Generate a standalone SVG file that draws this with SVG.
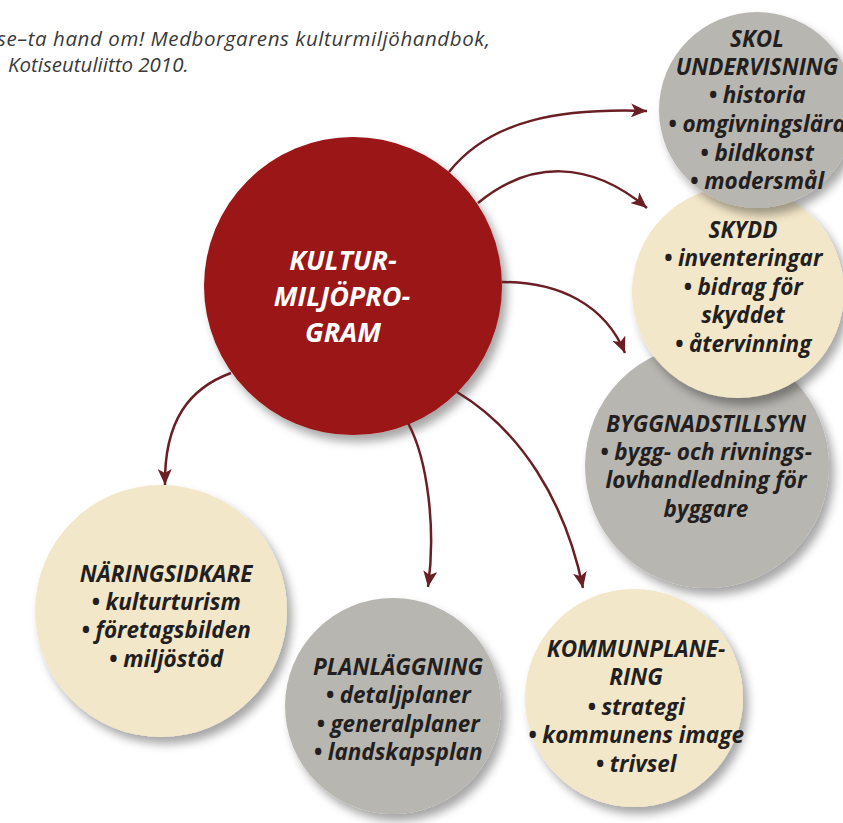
<svg xmlns="http://www.w3.org/2000/svg" width="843" height="823" viewBox="0 0 843 823">
<defs>
<filter id="sh" x="-20%" y="-20%" width="150%" height="150%">
<feDropShadow dx="5" dy="7" stdDeviation="5" flood-color="#000" flood-opacity="0.35"/>
</filter>
<marker id="ah" markerUnits="userSpaceOnUse" markerWidth="18" markerHeight="14" refX="16" refY="7" orient="auto">
<path d="M0,0 L16,7 L0,14 L4,7 Z" fill="#6a1f24"/>
</marker>
<style>
.gray{fill:#b8b6b1;filter:url(#sh)}
.cream{fill:#f3e7c9;filter:url(#sh)}
.red{fill:#9b1419;filter:url(#sh)}
.t{font-family:"Open Sans","Noto Sans","Liberation Sans",sans-serif;font-style:italic;font-weight:bold;font-size:22.5px;fill:#231f20;text-anchor:middle}
.w{font-family:"Open Sans","Noto Sans","Liberation Sans",sans-serif;font-style:italic;font-weight:bold;font-size:27px;fill:#ffffff;text-anchor:middle}
.cap{font-family:"Open Sans","Noto Sans","Liberation Sans",sans-serif;font-style:italic;font-size:20.5px;fill:#3a3a3a}
.c{fill:none;stroke:#6a1f24;stroke-width:2.5;marker-end:url(#ah)}
</style>
</defs>
<rect width="843" height="823" fill="#ffffff"/>
<g id="caption">
<text class="cap" x="-3" y="46" textLength="493" lengthAdjust="spacing">se–ta hand om! Medborgarens kulturmiljöhandbok,</text>
<text class="cap" x="8" y="72">Kotiseutuliitto 2010.</text>
</g>
<g id="byggnadstillsyn">
<circle class="gray" cx="707" cy="466" r="122"/>
<text class="t" x="706" y="432">BYGGNADSTILLSYN</text>
<text class="t" x="706" y="460">• bygg- och rivnings-</text>
<text class="t" x="706" y="488">lovhandledning för</text>
<text class="t" x="706" y="517">byggare</text>
</g>
<g id="skydd">
<circle class="cream" cx="738" cy="292" r="106"/>
<text class="t" x="743" y="238">SKYDD</text>
<text class="t" x="743" y="266">• inventeringar</text>
<text class="t" x="743" y="295">• bidrag för</text>
<text class="t" x="743" y="323">skyddet</text>
<text class="t" x="743" y="352">• återvinning</text>
</g>
<g id="skolundervisning">
<circle class="gray" cx="757" cy="110" r="98"/>
<text class="t" x="757" y="47">SKOL</text>
<text class="t" x="757" y="75">UNDERVISNING</text>
<text class="t" x="757" y="103">• historia</text>
<text class="t" x="757" y="132">• omgivningslära</text>
<text class="t" x="757" y="161">• bildkonst</text>
<text class="t" x="757" y="189">• modersmål</text>
</g>
<g id="naringsidkare">
<circle class="cream" cx="161" cy="611" r="126"/>
<text class="t" x="166" y="582">NÄRINGSIDKARE</text>
<text class="t" x="166" y="610">• kulturturism</text>
<text class="t" x="166" y="638">• företagsbilden</text>
<text class="t" x="166" y="667">• miljöstöd</text>
</g>
<g id="planlaggning">
<circle class="gray" cx="393" cy="706" r="108"/>
<text class="t" x="398" y="675">PLANLÄGGNING</text>
<text class="t" x="398" y="703">• detaljplaner</text>
<text class="t" x="398" y="732">• generalplaner</text>
<text class="t" x="398" y="760">• landskapsplan</text>
</g>
<g id="kommunplanering">
<circle class="cream" cx="634" cy="698" r="109"/>
<text class="t" x="636" y="657">KOMMUNPLANE-</text>
<text class="t" x="636" y="685">RING</text>
<text class="t" x="636" y="715">• strategi</text>
<text class="t" x="636" y="743">• kommunens image</text>
<text class="t" x="636" y="772">• trivsel</text>
</g>
<g id="kulturmiljoprogram">
<circle class="red" cx="353" cy="286" r="149"/>
<text class="w" x="343" y="270">KULTUR-</text>
<text class="w" x="342" y="306">MILJÖPRO-</text>
<text class="w" x="343" y="342">GRAM</text>
</g>
<g id="connectors">
<path class="c" d="M449,172 C490,120 560,108 647,111"/>
<path class="c" d="M478,203 C530,160 590,160 647,208"/>
<path class="c" d="M502,282 C560,282 605,305 625,353"/>
<path class="c" d="M231,373 C190,388 164,420 165,485"/>
<path class="c" d="M408,423 C428,460 436,530 428,587"/>
<path class="c" d="M457,392 C520,430 565,500 583,588"/>
</g>
</svg>
